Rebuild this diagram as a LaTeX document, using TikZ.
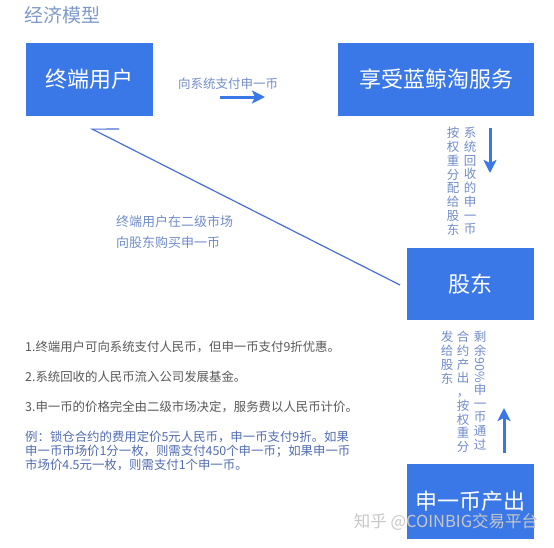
\documentclass[tikz,border=0pt]{standalone}
\usepackage{fontspec}
\setmainfont{Noto Sans CJK SC}
\usetikzlibrary{arrows.meta}
\definecolor{boxblue}{RGB}{59,120,231}
\definecolor{titleblue}{RGB}{125,154,203}
\definecolor{labelblue}{RGB}{112,140,200}
\definecolor{notegray}{RGB}{88,88,88}
\definecolor{exblue}{RGB}{80,108,176}
\definecolor{lineblue}{RGB}{72,110,214}

\begin{document}
\begin{tikzpicture}[x=1pt,y=-1pt,
  blockbox/.style={fill=boxblue, text=white, inner sep=0pt, minimum height=73pt, font=\fontsize{22}{22}\selectfont},
  steplabel/.style={text=labelblue, inner sep=0pt, font=\fontsize{12.5}{13.75}\selectfont},
  vlabel/.style={steplabel, align=center, anchor=north},
  notetext/.style={text=notegray, inner sep=0pt, anchor=west, font=\fontsize{12.4}{14}\selectfont},
  flowarrow/.style={-{Stealth[length=13pt,width=13pt,inset=3pt]}, line width=3pt, boxblue}]
\useasboundingbox (0,0) rectangle (554,547);
\coordinate (a) at (89.5,79.5);
\coordinate (b) at (436,79.5);
\coordinate (c) at (470.5,284);
\coordinate (d) at (470.5,501);
% title
\node[text=titleblue, inner sep=0pt, anchor=west, font=\fontsize{19}{19}\selectfont] (title) at (24,15) {经济模型};
% draws boxes
\node[blockbox, minimum width=127pt] (user) at (a) {终端用户};
\node[blockbox, minimum width=196pt] (service) at (b) {享受蓝鲸淘服务};
\node[blockbox, minimum width=127pt, minimum height=72pt] (holder) at (c) {股东};
\node[blockbox, minimum width=127pt, minimum height=75pt] (mint) at (d) {申一币产出};
% arrow ends
\coordinate (payfrom) at (220,97);
\coordinate (payto) at (265,97);
\coordinate (sharefrom) at (490,128);
\coordinate (shareto) at (490,173);
\coordinate (mintfrom) at (504,453);
\coordinate (mintto) at (504,408);
\coordinate (buytip) at (90,128);
\coordinate (buyend) at (400,285);
% draws arrows
\draw[flowarrow] (payfrom) -- (payto);
\draw[flowarrow] (sharefrom) -- (shareto);
\draw[flowarrow] (mintfrom) -- (mintto);
\draw[lineblue, line width=1.2pt, -{Straight Barb[harpoon, swap, angle=54:27pt]}] (buyend) -- (buytip);
% labels arrows
\node[steplabel, anchor=west] (paylabel) at (178,84) {向系统支付申一币};
\node[vlabel] (recycle) at (470,127) {系\\统\\回\\收\\的\\申\\一\\币};
\node[vlabel] (split) at (453,127) {按\\权\\重\\分\\配\\给\\股\\东};
\node[steplabel, align=left, anchor=west, font=\fontsize{13}{21}\selectfont] (buylabel) at (116,232.5) {终端用户在二级市场\\向股东购买申一币};
\node[vlabel] (rest) at (480,331) {剩\\余\\\rotatebox[origin=c]{-90}{90\%}\\申\\一\\币\\通\\过};
\node[vlabel] (output) at (463,331) {合\\约\\产\\出\\，\\按\\权\\重\\分};
\node[vlabel] (give) at (447,331) {发\\给\\股\\东};
% notes
\node[notetext] (note1) at (25,347) {1.终端用户可向系统支付人民币，但申一币支付9折优惠。};
\node[notetext] (note2) at (25,377) {2.系统回收的人民币流入公司发展基金。};
\node[notetext] (note3) at (25,407) {3.申一币的价格完全由二级市场决定，服务费以人民币计价。};
\node[notetext, text=exblue, align=left] (example) at (25,450.5) {例：锁仓合约的费用定价5元人民币，申一币支付9折。如果\\申一币市场价1分一枚，则需支付450个申一币；如果申一币\\市场价4.5元一枚，则需支付1个申一币。};
% watermark
\node[text=black!22, inner sep=0pt, font=\fontsize{16.5}{16.5}\selectfont] (mark) at (446,522) {知乎 @COINBIG交易平台};
\end{tikzpicture}
\end{document}
